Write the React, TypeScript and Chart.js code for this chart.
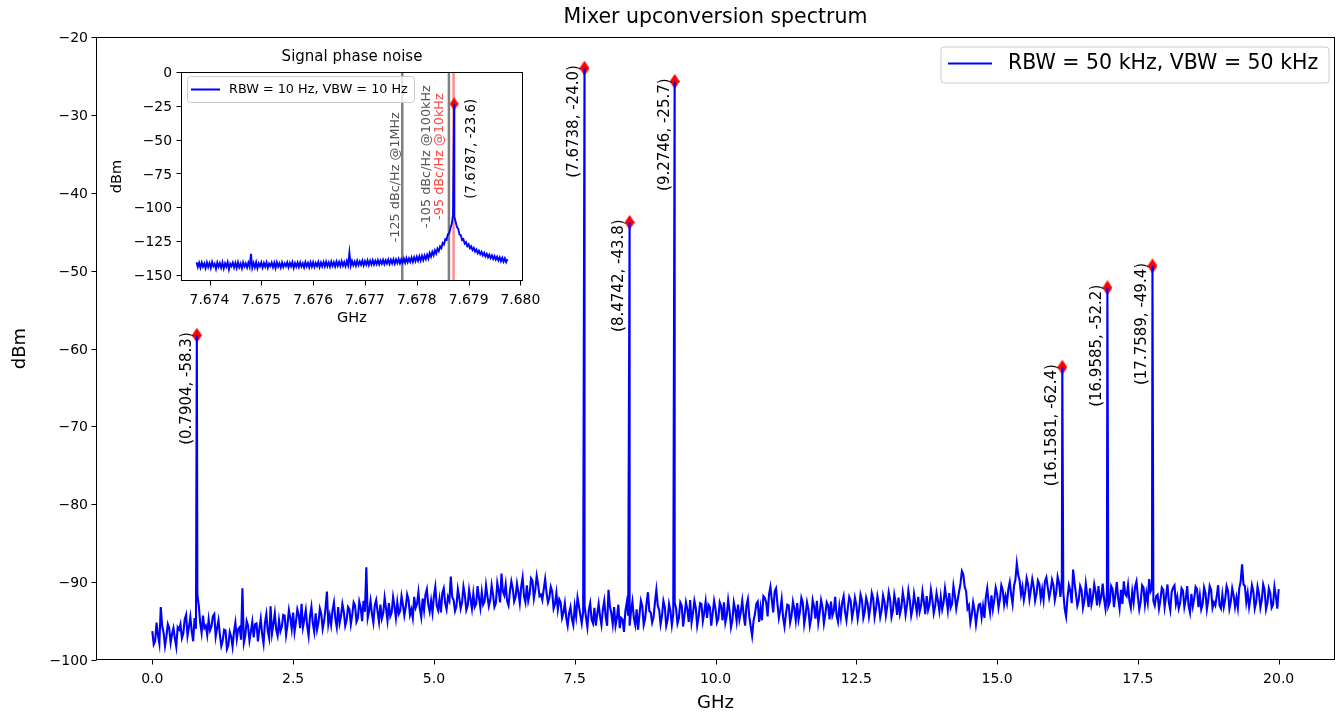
import React, { useEffect, useRef } from 'react';
import { Chart, registerables } from 'chart.js';

Chart.register(...registerables);

const FONT = "'DejaVu Sans', 'Liberation Sans', sans-serif";

// ---------------- Main spectrum data ----------------
const TITLE = 'Mixer upconversion spectrum';
const MAIN_LEGEND = 'RBW = 50 kHz, VBW = 50 kHz';
// samples at 0.00, 0.05, 0.10 ... 20.00 GHz
const noiseStartGHz = 0;
const noiseStepGHz = 0.05;
const noiseDbm = [
  -96.3, -97.6, -96.8, -93.2, -96.5, -97.0, -95.9, -96.7, -97.2, -95.8,
  -95.4, -96.6, -94.2, -95.8, -96.3, -94.6, -91.6, -95.2, -94.3, -95.6,
  -94.8, -95.7, -94.1, -95.9, -96.8, -97.5, -96.2, -98.1, -97.0, -96.4,
  -97.3, -95.8, -90.8, -96.9, -95.6, -96.4, -97.1, -95.3, -96.0, -96.7,
  -95.2, -96.3, -93.1, -95.4, -96.1, -94.9, -95.7, -94.3, -95.5, -94.6,
  -93.9, -95.1, -94.2, -92.8, -94.8, -95.6, -94.4, -95.3, -94.0, -95.2,
  -94.1, -95.0, -91.2, -94.3, -93.6, -94.7, -93.2, -94.4, -93.8, -94.9,
  -93.5, -94.2, -93.0, -94.6, -93.3, -92.4, -88.1, -93.7, -94.1, -93.0,
  -93.8, -92.9, -94.0, -93.4, -92.7, -93.9, -93.1, -92.6, -93.7, -92.9,
  -93.2, -92.3, -93.5, -91.9, -92.8, -93.4, -92.1, -91.6, -92.9, -92.4,
  -91.8, -93.0, -92.2, -91.4, -92.7, -91.9, -89.3, -92.3, -93.1, -92.0,
  -92.6, -91.7, -93.0, -92.2, -91.5, -92.8, -92.0, -91.3, -92.5, -91.8,
  -92.3, -91.6, -92.7, -91.1, -88.9, -91.7, -92.4, -91.2, -90.8, -91.9,
  -91.3, -90.6, -91.8, -90.4, -91.5, -89.8, -91.0, -90.3, -91.6, -90.9,
  -91.4, -92.0, -91.2, -92.8, -93.5, -92.6, -93.9, -94.6, -94.0, -94.7,
  -93.1, -92.0, -94.2, -93.8, -94.5, -93.6, -94.8, -93.3, -94.1, -94.4,
  -93.5, -94.4, -91.0, -94.0, -93.2, -94.6, -95.9, -94.8, -93.7, -94.3,
  -93.8, -94.6, -93.5, -94.2, -93.1, -94.7, -91.3, -93.9, -94.5, -91.0,
  -93.6, -94.3, -93.2, -94.8, -93.7, -94.1, -93.4, -94.6, -93.0, -94.2,
  -93.5, -92.3, -94.0, -93.3, -94.5, -92.8, -93.9, -94.6, -93.2, -94.0,
  -93.4, -94.7, -93.1, -92.6, -94.3, -93.7, -94.9, -93.5, -92.9, -93.8,
  -94.2, -93.0, -94.4, -96.9, -94.1, -92.5, -93.3, -91.8, -92.6, -91.6,
  -92.3, -91.2, -92.8, -93.6, -94.5, -94.1, -93.0, -94.3, -93.4, -92.7,
  -93.8, -92.6, -94.2, -93.5, -94.6, -93.1, -92.4, -93.9, -93.2, -94.1,
  -93.0, -92.5, -93.7, -94.3, -93.1, -92.6, -93.8, -93.3, -92.4, -93.6,
  -92.9, -93.5, -92.3, -93.8, -92.7, -93.2, -92.1, -93.4, -92.8, -93.6,
  -92.5, -93.1, -92.2, -93.7, -92.6, -92.0, -93.3, -92.4, -93.0, -92.3,
  -93.4, -92.7, -91.9, -93.0, -92.5, -91.8, -92.9, -92.2, -93.1, -92.4,
  -91.9, -92.6, -92.1, -91.4, -92.8, -91.7, -92.3, -90.2, -89.0, -91.2,
  -93.0, -94.2, -93.6, -94.0, -92.8, -93.1, -92.0, -92.6, -91.7, -92.3,
  -91.5, -92.2, -91.0, -91.8, -90.9, -91.6, -90.5, -87.6, -89.8, -90.6,
  -91.2, -90.3, -91.0, -90.6, -91.5, -90.2, -90.9, -89.9, -90.7, -91.1,
  -90.4, -91.3, -90.1, -89.6, -93.4, -92.0, -91.1, -88.4, -91.5, -92.3,
  -91.0, -92.4, -91.7, -90.8, -92.0, -91.3, -90.5, -91.9, -92.2, -91.4,
  -92.6, -90.9, -91.7, -92.1, -91.0, -89.9, -91.8, -92.4, -91.2, -90.6,
  -91.9, -92.5, -90.7, -91.4, -89.6, -90.8, -93.0, -91.6, -92.3, -91.0,
  -91.8, -92.6, -91.3, -90.4, -91.9, -92.7, -91.1, -92.2, -93.0, -91.5,
  -92.1, -90.9, -91.7, -92.8, -91.4, -92.3, -91.0, -92.6, -91.8, -93.0,
  -91.6, -92.2, -91.1, -92.5, -91.7, -92.0, -90.8, -87.7, -90.5, -91.4,
  -92.0, -91.2, -92.6, -91.5, -92.3, -91.0, -92.7, -91.4, -92.9, -91.8,
  -90.9,
];
// samples at 0.025, 0.075 ... 19.975 GHz
const midStartGHz = 0.025;
const midDbm = [
  -98.0, -95.2, -97.9, -95.6, -98.2, -95.4, -97.8, -95.9, -98.3, -96.1,
  -97.2, -94.8, -96.9, -94.5, -97.6, -96.0, -93.0, -96.5, -95.9, -96.8,
  -96.2, -94.4, -97.0, -94.9, -98.2, -96.1, -98.6, -96.4, -98.3, -95.2,
  -96.0, -97.4, -97.8, -95.0, -97.5, -95.1, -95.4, -97.6, -94.7, -97.9,
  -94.1, -97.2, -96.6, -94.0, -96.9, -96.3, -94.2, -96.8, -93.6, -96.0,
  -96.4, -93.5, -95.9, -95.8, -93.6, -96.9, -93.2, -96.4, -96.1, -93.4,
  -96.0, -93.4, -95.4, -95.5, -92.6, -95.8, -95.3, -92.8, -95.6, -93.2,
  -95.4, -92.6, -95.1, -92.5, -95.0, -93.8, -94.6, -92.4, -95.2, -92.3,
  -95.1, -94.7, -92.0, -94.9, -94.4, -91.9, -94.6, -94.1, -91.8, -94.3,
  -91.6, -94.2, -94.6, -93.3, -91.3, -94.5, -93.6, -90.9, -93.8, -93.9,
  -90.6, -93.6, -93.9, -90.8, -93.5, -92.4, -91.9, -93.7, -90.9, -93.4,
  -90.6, -93.6, -91.0, -93.4, -93.2, -90.5, -93.3, -92.9, -90.4, -93.1,
  -90.4, -93.2, -90.1, -92.6, -91.2, -90.3, -93.0, -89.9, -92.5, -90.2,
  -92.7, -89.4, -92.6, -92.4, -89.5, -92.1, -89.2, -91.8, -92.3, -89.6,
  -92.6, -90.6, -93.4, -91.4, -92.2, -94.6, -92.7, -95.6, -93.2, -95.5,
  -94.4, -93.1, -95.3, -93.0, -95.8, -92.7, -95.3, -95.6, -92.8, -95.5,
  -92.4, -95.6, -93.1, -95.4, -95.6, -92.9, -94.6, -96.4, -92.6, -95.6,
  -92.5, -95.5, -96.1, -92.4, -95.5, -92.8, -93.7, -95.2, -92.6, -93.0,
  -95.4, -92.4, -95.6, -92.8, -95.5, -92.6, -95.3, -92.6, -95.7, -92.6,
  -95.1, -95.2, -92.4, -95.6, -92.7, -95.0, -92.5, -92.9, -95.6, -92.4,
  -95.2, -92.6, -94.9, -95.2, -92.3, -95.8, -92.6, -95.0, -94.8, -92.4,
  -95.6, -92.2, -95.7, -95.0, -92.8, -95.1, -94.9, -92.0, -94.4, -90.6,
  -93.9, -90.8, -94.6, -92.2, -95.7, -92.9, -95.2, -92.5, -94.9, -94.8,
  -92.0, -95.4, -92.6, -95.6, -92.3, -94.7, -95.2, -92.3, -95.3, -92.6,
  -94.8, -94.3, -91.9, -95.1, -94.5, -91.8, -94.9, -91.9, -94.6, -92.0,
  -94.7, -91.6, -94.6, -92.0, -94.4, -91.4, -94.5, -91.8, -94.5, -91.7,
  -94.3, -91.3, -94.5, -91.6, -94.2, -94.1, -91.3, -94.2, -91.1, -94.3,
  -91.5, -93.9, -93.8, -91.2, -94.1, -93.6, -91.0, -94.0, -91.4, -93.7,
  -93.5, -90.8, -93.6, -93.3, -90.5, -93.4, -91.2, -88.6, -90.6, -93.4,
  -95.2, -92.6, -95.4, -92.9, -94.5, -94.6, -90.8, -93.9, -93.5, -90.7,
  -93.3, -90.4, -92.9, -92.7, -90.0, -92.8, -89.7, -89.1, -91.6, -92.3,
  -89.5, -92.2, -89.6, -92.4, -89.8, -92.1, -92.3, -89.4, -92.0, -89.7,
  -92.3, -89.3, -91.9, -91.2, -94.4, -90.4, -92.7, -90.1, -93.0, -90.5,
  -93.3, -90.2, -93.2, -92.9, -90.3, -93.0, -92.6, -90.2, -93.4, -93.1,
  -90.5, -93.2, -90.0, -93.4, -92.8, -91.5, -90.4, -93.3, -92.6, -89.9,
  -93.5, -90.4, -92.9, -92.6, -91.2, -92.4, -91.8, -93.4, -90.7, -93.2,
  -90.3, -93.6, -90.7, -92.8, -93.4, -90.8, -93.2, -90.5, -93.9, -93.1,
  -90.6, -93.2, -93.5, -90.7, -93.5, -90.5, -93.3, -93.0, -90.4, -93.4,
  -93.2, -90.5, -93.4, -90.8, -93.2, -93.3, -89.9, -90.3, -92.6, -93.2,
  -90.4, -93.4, -90.6, -93.3, -90.3, -93.5, -90.8, -93.3, -90.6, -93.4,
];
const peakGHz = [0.7904, 7.6738, 8.4742, 9.2746, 16.1581, 16.9585, 17.7589];
const peakDbm = [-58.3, -24.0, -43.8, -25.7, -62.4, -52.2, -49.4];
const xTicks = [0, 2.5, 5, 7.5, 10, 12.5, 15, 17.5, 20];
const yTicks = [-100, -90, -80, -70, -60, -50, -40, -30, -20];
const X_MIN = -1, X_MAX = 21, Y_MIN = -100, Y_MAX = -20;

// ---------------- Inset (phase noise) data ----------------
const INSET_TITLE = 'Signal phase noise';
const INSET_LEGEND = 'RBW = 10 Hz, VBW = 10 Hz';
const insetStartGHz = 7.67375;
const insetStepGHz = 0.000025;
const insetDbm = [
  -140.6, -144.2, -141.0, -144.6, -140.8, -143.9, -141.5, -145.0, -140.7, -144.1,
  -141.2, -144.8, -140.5, -143.6, -141.8, -145.6, -140.9, -144.0, -141.3, -144.7,
  -140.8, -145.2, -141.4, -143.9, -140.6, -145.8, -141.7, -143.5, -140.9, -144.6,
  -141.1, -144.9, -140.7, -144.3, -141.6, -145.1, -140.8, -143.8, -141.4, -144.5,
  -140.9, -144.0, -134.5, -144.7, -141.2, -144.4, -140.6, -145.0, -141.5, -143.7,
  -140.8, -144.6, -141.3, -143.9, -140.7, -144.8, -141.6, -143.5, -140.9, -144.3,
  -141.0, -144.9, -140.6, -143.8, -141.4, -144.5, -140.8, -144.1, -141.5, -143.6,
  -140.7, -144.4, -141.2, -143.7, -140.6, -144.8, -141.3, -143.9, -140.9, -144.2,
  -140.8, -143.8, -141.4, -144.5, -140.5, -143.6, -141.1, -144.3, -140.7, -143.9,
  -140.6, -144.1, -141.2, -143.5, -140.4, -144.2, -140.9, -143.7, -140.5, -143.8,
  -140.3, -143.6, -140.8, -143.9, -140.2, -143.4, -140.7, -143.8, -140.1, -143.3,
  -140.4, -143.5, -139.9, -143.2, -140.5, -143.6, -139.8, -142.9, -133.6, -143.1,
  -139.7, -142.9, -140.2, -143.3, -139.6, -142.8, -140.1, -142.6, -139.5, -142.9,
  -139.8, -142.5, -139.3, -142.7, -139.6, -142.3, -139.2, -142.4, -139.5, -142.0,
  -139.1, -142.2, -139.4, -141.8, -138.9, -142.0, -139.2, -141.6, -138.7, -141.9,
  -138.8, -141.5, -138.4, -141.7, -138.6, -141.2, -138.2, -141.4, -138.5, -140.9,
  -137.9, -141.0, -137.6, -140.6, -137.8, -140.3, -137.2, -140.5, -137.0, -139.9,
  -136.6, -139.6, -136.3, -139.4, -135.9, -139.0, -135.6, -138.4, -135.1, -137.9,
  -133.8, -136.4, -132.9, -135.5, -131.8, -134.2, -130.6, -132.4, -128.9, -130.3,
  -126.4, -127.5, -123.6, -124.1, -120.0, -119.3, -115.2, -112.4, -105.4, -106.9,
  -110.8, -114.6, -115.9, -120.2, -120.6, -124.3, -123.5, -126.9, -125.8, -128.7,
  -127.4, -130.2, -128.9, -131.6, -130.1, -132.8, -131.2, -133.9, -132.1, -134.7,
  -132.9, -135.6, -133.7, -136.3, -134.4, -137.0, -135.0, -137.6, -135.6, -138.2,
  -136.1, -138.7, -136.6, -139.3, -137.0, -139.8, -137.3, -140.2, -137.7, -140.6,
  -138.4,
];
const insetPeakGHz = 7.67872;
const insetPeakDbm = -23.6;
const insetXTicks = [7.674, 7.675, 7.676, 7.677, 7.678, 7.679, 7.68];
const insetYTicks = [0, -25, -50, -75, -100, -125, -150];
const IX_MIN = 7.67345, IX_MAX = 7.68005, IY_MIN = -154.5, IY_MAX = 0;
// phase-noise reference offsets (peak - 1 MHz, - 100 kHz, - 10 kHz)
const pnLineGHz = [7.67772, 7.67862, 7.67871];
const pnLineColor = ['#808080', '#808080', 'rgba(255,0,0,0.45)'];
const pnText1 = '-125 dBc/Hz @1MHz';
const pnText2 = '-105 dBc/Hz @100kHz';
const pnText3 = '-95 dBc/Hz @10kHz';

type Pt = { x: number; y: number };

function series(start: number, step: number, vals: number[]): Pt[] {
  return vals.map((y, i) => ({ x: start + i * step, y }));
}

function merge(...lists: Pt[][]): Pt[] {
  const all = ([] as Pt[]).concat(...lists);
  all.sort((a, b) => a.x - b.x);
  return all;
}

function minusFmt(v: number) {
  return (v < 0 ? '\u2212' : '') + Math.abs(v).toFixed(0);
}

function makeDiamond(w: number, h: number, color: string) {
  const c = document.createElement('canvas');
  c.width = w;
  c.height = h;
  const g = c.getContext('2d')!;
  g.fillStyle = color;
  g.beginPath();
  g.moveTo(w / 2, 0);
  g.lineTo(w, h / 2);
  g.lineTo(w / 2, h);
  g.lineTo(0, h / 2);
  g.closePath();
  g.fill();
  return c;
}

// frame, tick marks and tick labels (matplotlib-like)
function drawAxes(
  chart: any,
  xt: number[],
  yt: number[],
  fx: (v: number) => string,
  fy: (v: number) => string,
  size: number,
  xBase: number,
  yRight: number,
) {
  const { ctx, chartArea: a } = chart;
  const xs = chart.scales.x;
  const ys = chart.scales.y;
  ctx.save();
  ctx.strokeStyle = '#000';
  ctx.lineWidth = 1;
  const L = Math.round(a.left) + 0.5;
  const T = Math.round(a.top) + 0.5;
  const R = Math.round(a.right) - 0.5;
  const B = Math.round(a.bottom) - 0.5;
  ctx.strokeRect(L, T, R - L, B - T);
  ctx.beginPath();
  xt.forEach((v) => {
    const p = Math.round(xs.getPixelForValue(v)) + 0.5;
    ctx.moveTo(p, B);
    ctx.lineTo(p, B + 5);
  });
  yt.forEach((v) => {
    const p = Math.round(ys.getPixelForValue(v)) + 0.5;
    ctx.moveTo(L, p);
    ctx.lineTo(L - 5, p);
  });
  ctx.stroke();
  ctx.fillStyle = '#000';
  ctx.font = `${size}px ${FONT}`;
  ctx.textBaseline = 'alphabetic';
  ctx.textAlign = 'center';
  xt.forEach((v) => ctx.fillText(fx(v), xs.getPixelForValue(v), xBase));
  ctx.textAlign = 'right';
  yt.forEach((v) => ctx.fillText(fy(v), yRight, ys.getPixelForValue(v) + size * 0.365));
  ctx.restore();
}

const hiddenAxis = (min: number, max: number) => ({ type: 'linear' as const, min, max, display: false });

export default function App() {
  const mainRef = useRef<HTMLCanvasElement>(null);
  const insetRef = useRef<HTMLCanvasElement>(null);

  useEffect(() => {
    const markers = peakGHz.map((x, k) => ({ x, y: peakDbm[k] }));
    const mainTrace = merge(
      series(noiseStartGHz, noiseStepGHz, noiseDbm),
      series(midStartGHz, noiseStepGHz, midDbm),
      markers,
    );
    const diamond = makeDiamond(10, 15, '#ff0000');
    const diamondSmall = makeDiamond(9, 13, '#ff0000');

    const mainDecor = {
      id: 'mainDecor',
      beforeDraw(chart: any) {
        const ctx = chart.ctx;
        ctx.save();
        ctx.fillStyle = '#ffffff';
        ctx.fillRect(0, 0, chart.width, chart.height);
        ctx.restore();
      },
      afterDraw(chart: any) {
        const { ctx, chartArea: a } = chart;
        const xs = chart.scales.x;
        const ys = chart.scales.y;
        drawAxes(chart, xTicks, yTicks, (v) => v.toFixed(1), minusFmt, 14, 683, 88);
        ctx.save();
        ctx.fillStyle = '#000';
        ctx.textAlign = 'center';
        ctx.textBaseline = 'middle';
        ctx.font = `20.5px ${FONT}`;
        ctx.fillText(TITLE, (a.left + a.right) / 2, 18);
        ctx.font = `18px ${FONT}`;
        ctx.fillText('GHz', (a.left + a.right) / 2, 703);
        ctx.save();
        ctx.translate(20, (a.top + a.bottom) / 2);
        ctx.rotate(-Math.PI / 2);
        ctx.fillText('dBm', 0, 0);
        ctx.restore();
        // peak annotations
        ctx.font = `15px ${FONT}`;
        ctx.textAlign = 'right';
        peakGHz.forEach((f, k) => {
          const px = xs.getPixelForValue(f);
          const py = ys.getPixelForValue(peakDbm[k]);
          ctx.save();
          ctx.translate(px - 10, py - 3);
          ctx.rotate(-Math.PI / 2);
          ctx.fillText(`(${f.toFixed(4)}, ${peakDbm[k].toFixed(1)})`, 0, 0);
          ctx.restore();
        });
        // legend
        ctx.beginPath();
        ctx.roundRect(941, 47, 388, 36, 3);
        ctx.fillStyle = 'rgba(255,255,255,0.8)';
        ctx.fill();
        ctx.strokeStyle = '#cccccc';
        ctx.lineWidth = 1;
        ctx.stroke();
        ctx.beginPath();
        ctx.moveTo(948, 63.5);
        ctx.lineTo(992, 63.5);
        ctx.strokeStyle = '#0000ff';
        ctx.lineWidth = 2;
        ctx.stroke();
        ctx.fillStyle = '#000';
        ctx.textAlign = 'left';
        ctx.font = `20.5px ${FONT}`;
        ctx.fillText(MAIN_LEGEND, 1008, 64);
        ctx.restore();
      },
    };

    const main = new Chart(mainRef.current!, {
      type: 'line',
      data: {
        datasets: [
          { data: mainTrace, borderColor: '#0000ff', borderWidth: 2.1, pointRadius: 0, tension: 0, order: 1 } as any,
          { data: markers, showLine: false, pointStyle: diamond, pointRadius: 7, order: 2 } as any,
        ],
      },
      options: {
        animation: false,
        responsive: false,
        devicePixelRatio: 1,
        events: [],
        layout: { padding: { top: 37, right: 3, left: 96, bottom: 53 } },
        plugins: { legend: { display: false }, tooltip: { enabled: false }, title: { display: false } },
        scales: {
          x: hiddenAxis(X_MIN, X_MAX),
          y: hiddenAxis(Y_MIN, Y_MAX),
        },
      } as any,
      plugins: [mainDecor],
    });

    // ---------------- inset ----------------
    const insetMarker = [{ x: insetPeakGHz, y: insetPeakDbm }];
    const insetTrace = merge(series(insetStartGHz, insetStepGHz, insetDbm), insetMarker);
    const insetDecor = {
      id: 'insetDecor',
      beforeDatasetsDraw(chart: any) {
        const { ctx, chartArea: a } = chart;
        ctx.save();
        ctx.fillStyle = '#ffffff';
        ctx.fillRect(a.left, a.top, a.right - a.left, a.bottom - a.top);
        ctx.restore();
      },
      afterDraw(chart: any) {
        const { ctx, chartArea: a } = chart;
        const xs = chart.scales.x;
        const ys = chart.scales.y;
        drawAxes(chart, insetXTicks, insetYTicks, (v) => v.toFixed(3), minusFmt, 13.9, 264, 72);
        ctx.save();
        ctx.fillStyle = '#000';
        ctx.textAlign = 'center';
        ctx.textBaseline = 'middle';
        ctx.font = `15px ${FONT}`;
        ctx.fillText(INSET_TITLE, (a.left + a.right) / 2, 17);
        ctx.font = `14.5px ${FONT}`;
        ctx.fillText('GHz', (a.left + a.right) / 2, 278);
        ctx.save();
        ctx.translate(17, (a.top + a.bottom) / 2);
        ctx.rotate(-Math.PI / 2);
        ctx.fillText('dBm', 0, 0);
        ctx.restore();

        // rotated phase-noise texts
        ctx.font = `12.8px ${FONT}`;
        const l1 = xs.getPixelForValue(pnLineGHz[0]);
        const l2 = xs.getPixelForValue(pnLineGHz[1]);
        const l3 = xs.getPixelForValue(pnLineGHz[2]);
        const c1 = ys.getPixelForValue(-77.8);
        const c2 = ys.getPixelForValue(-62.5);
        const rot = (text: string, x: number, y: number, color: string, align: CanvasTextAlign) => {
          ctx.save();
          ctx.translate(x, y);
          ctx.rotate(-Math.PI / 2);
          ctx.fillStyle = color;
          ctx.textAlign = align;
          ctx.fillText(text, 0, 0);
          ctx.restore();
        };
        rot(pnText1, l1 - 7, c1, '#555555', 'center');
        rot(pnText2, l2 - 22, c2, '#555555', 'center');
        rot(pnText3, l3 - 14, c2, 'rgba(255,0,0,0.75)', 'center');
        ctx.font = `13.3px ${FONT}`;
        const ppx = xs.getPixelForValue(insetPeakGHz);
        const ppy = ys.getPixelForValue(insetPeakDbm);
        rot(`(${insetPeakGHz.toFixed(4)}, ${insetPeakDbm.toFixed(1)})`, ppx + 17, ppy - 5, '#000', 'right');

        // legend
        ctx.beginPath();
        ctx.roundRect(87.5, 36.5, 227, 26, 3);
        ctx.fillStyle = 'rgba(255,255,255,0.8)';
        ctx.fill();
        ctx.strokeStyle = '#cccccc';
        ctx.lineWidth = 1;
        ctx.stroke();
        ctx.beginPath();
        ctx.moveTo(91, 49.5);
        ctx.lineTo(120, 49.5);
        ctx.strokeStyle = '#0000ff';
        ctx.lineWidth = 2;
        ctx.stroke();
        ctx.fillStyle = '#000';
        ctx.textAlign = 'left';
        ctx.font = `12.8px ${FONT}`;
        ctx.fillText(INSET_LEGEND, 129, 50);
        ctx.restore();
      },
    };

    const inset = new Chart(insetRef.current!, {
      type: 'line',
      data: {
        datasets: [
          { data: insetTrace, borderColor: '#0000ff', borderWidth: 1.9, pointRadius: 0, tension: 0, order: 1 } as any,
          { data: insetMarker, showLine: false, pointStyle: diamondSmall, pointRadius: 6, order: 2 } as any,
          ...pnLineGHz.map((f, k) => ({
            data: [{ x: f, y: IY_MIN }, { x: f, y: IY_MAX }],
            borderColor: pnLineColor[k],
            borderWidth: 2.5,
            pointRadius: 0,
            order: 3,
          })) as any,
        ],
      },
      options: {
        animation: false,
        responsive: false,
        devicePixelRatio: 1,
        events: [],
        layout: { padding: { top: 32, right: 37, left: 81, bottom: 59 } },
        plugins: { legend: { display: false }, tooltip: { enabled: false }, title: { display: false } },
        scales: {
          x: hiddenAxis(IX_MIN, IX_MAX),
          y: hiddenAxis(IY_MIN, IY_MAX),
        },
      } as any,
      plugins: [insetDecor],
    });

    return () => {
      main.destroy();
      inset.destroy();
    };
  }, []);

  return (
    <div style={{ position: 'absolute', left: 0, top: 0, width: 1343, height: 713, background: '#fff', overflow: 'hidden' }}>
      <canvas ref={mainRef} width={1343} height={713} style={{ position: 'absolute', left: 0, top: 0, width: 1343, height: 713 }} />
      <canvas ref={insetRef} width={460} height={300} style={{ position: 'absolute', left: 100, top: 40, width: 460, height: 300 }} />
    </div>
  );
}
